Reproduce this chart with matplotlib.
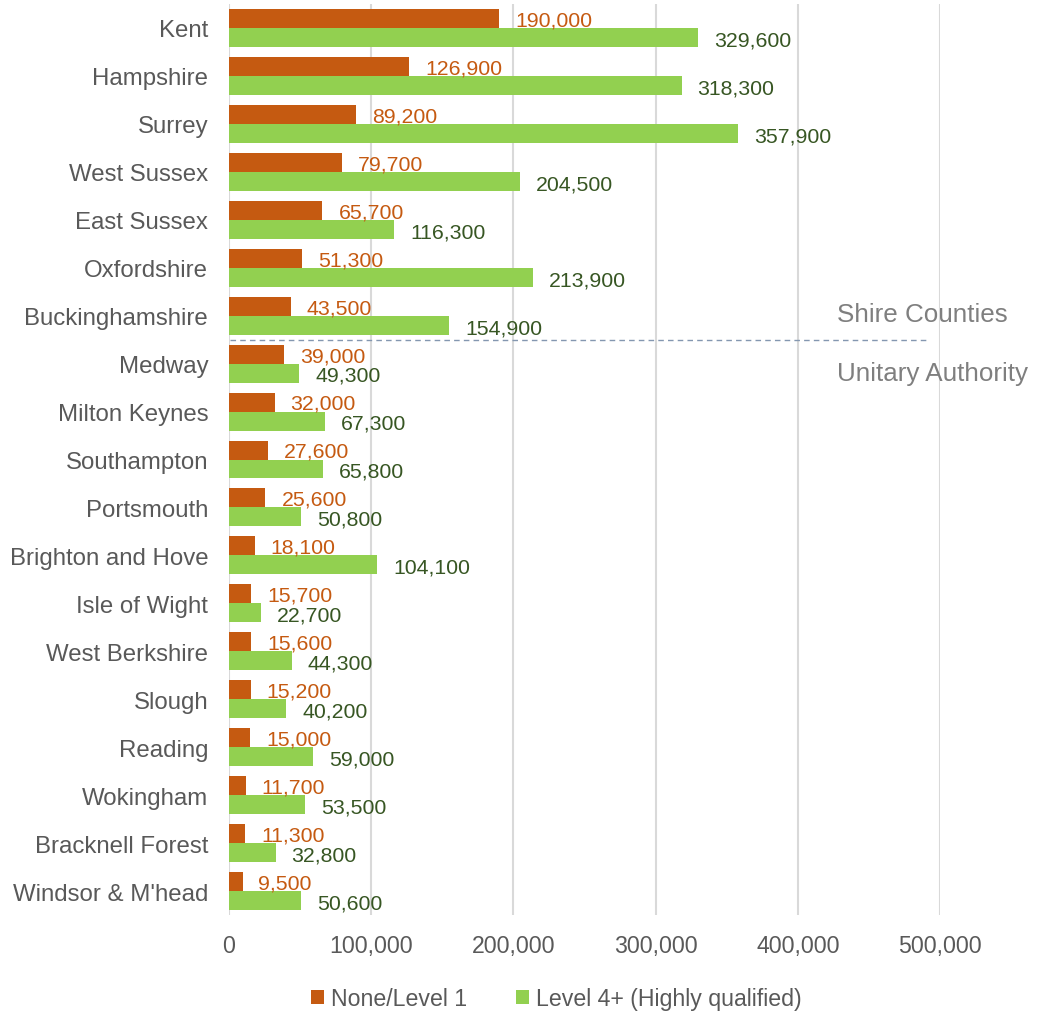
import matplotlib
matplotlib.use("Agg")
import matplotlib.pyplot as plt
from matplotlib.ticker import FuncFormatter

plt.rcParams['font.family'] = ['Liberation Sans', 'DejaVu Sans']

categories = ["Kent", "Hampshire", "Surrey", "West Sussex", "East Sussex", "Oxfordshire",
              "Buckinghamshire", "Medway", "Milton Keynes", "Southampton", "Portsmouth",
              "Brighton and Hove", "Isle of Wight", "West Berkshire", "Slough", "Reading",
              "Wokingham", "Bracknell Forest", "Windsor & M'head"]
none_level1 = [190000, 126900, 89200, 79700, 65700, 51300, 43500, 39000, 32000, 27600,
               25600, 18100, 15700, 15600, 15200, 15000, 11700, 11300, 9500]
level4 = [329600, 318300, 357900, 204500, 116300, 213900, 154900, 49300, 67300, 65800,
          50800, 104100, 22700, 44300, 40200, 59000, 53500, 32800, 50600]
series_names = ["None/Level 1", "Level 4+ (Highly qualified)"]
xticks = [0, 100000, 200000, 300000, 400000, 500000]

ORANGE = "#C55A11"
GREEN = "#92D050"
DKGREEN = "#375623"
GRAY = "#595959"

W, H = 1037, 1012
fig = plt.figure(figsize=(W / 100, H / 100), dpi=100)
ax = fig.add_axes([229 / W, 1 - 916 / H, (940 - 229) / W, (916 - 5) / H])

n = len(categories)
pos = list(range(n))
bh = 0.396
b1 = ax.barh([p - bh / 2 for p in pos], none_level1, height=bh, color=ORANGE, label=series_names[0])
b2 = ax.barh([p + bh / 2 for p in pos], level4, height=bh, color=GREEN, label=series_names[1])

for p, v in zip(pos, none_level1):
    ax.annotate(f"{v:,}", xy=(v, p - bh / 2), xytext=(11.5, -1.0), textcoords="offset points",
                ha="left", va="center", fontsize=15.3, color=ORANGE)
for p, v in zip(pos, level4):
    ax.annotate(f"{v:,}", xy=(v, p + bh / 2), xytext=(11.5, -1.7), textcoords="offset points",
                ha="left", va="center", fontsize=15.3, color=DKGREEN)

ax.set_xlim(0, 500000)
ax.set_ylim(n - 0.5, -0.5)
ax.set_xticks(xticks)
ax.xaxis.set_major_formatter(FuncFormatter(lambda x, _: f"{int(x):,}"))
ax.set_yticks(pos)
ax.set_yticklabels(categories)
ax.tick_params(axis='y', length=0, pad=15, labelsize=17.3, labelcolor=GRAY)
ax.tick_params(axis='x', length=0, pad=14, labelsize=16.7, labelcolor=GRAY)
ax.grid(axis='x', color="#D9D9D9", linewidth=1.5)
ax.set_axisbelow(True)
for s in ax.spines.values():
    s.set_visible(False)

# divider between shire counties and unitary authorities
ax.plot([800, 490000], [6.5, 6.5], linestyle=(0, (4, 3)), color="#8497B0", linewidth=1.0, clip_on=False)
ax.text(427600, 5.96, "Shire Counties", fontsize=18.7, color="#7F7F7F", ha="left", va="center", clip_on=False)
ax.text(427600, 7.2, "Unitary Authority", fontsize=18.7, color="#7F7F7F", ha="left", va="center", clip_on=False)

fig.legend(handles=[b1, b2], labels=series_names, loc="center", bbox_to_anchor=(556 / W, 1 - 1000 / H),
           ncol=2, frameon=False, fontsize=16.7, handlelength=0.56, handleheight=0.56,
           handletextpad=0.3, columnspacing=2.1, labelcolor=GRAY)

fig.savefig("out.png", dpi=100)
